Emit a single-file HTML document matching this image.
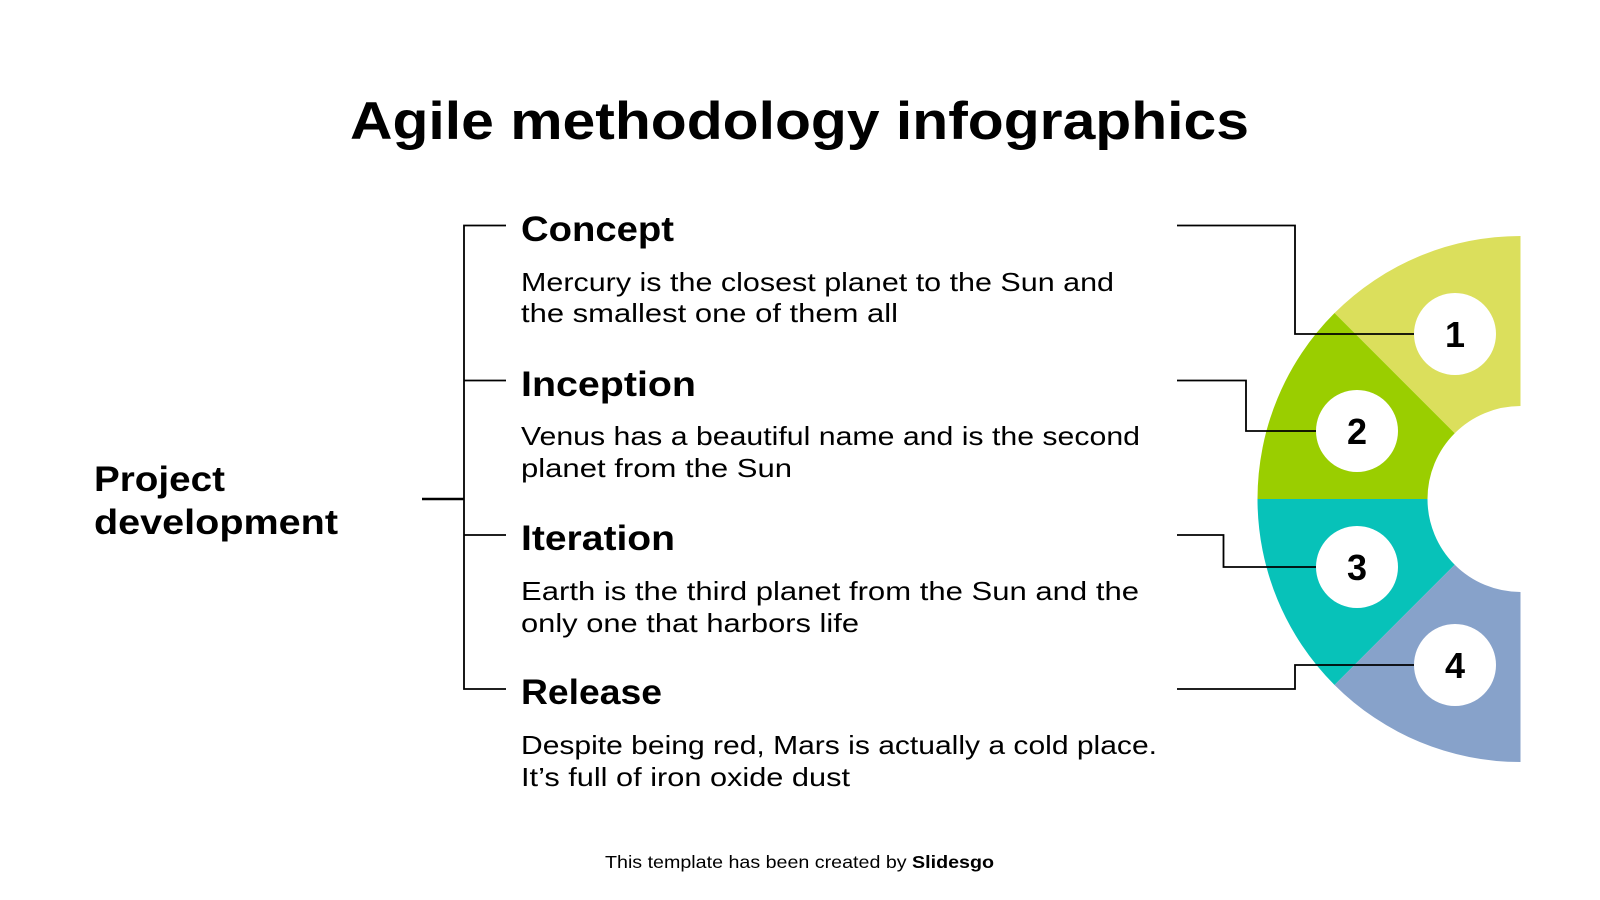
<!DOCTYPE html>
<html><head><meta charset="utf-8"><style>
html,body{margin:0;padding:0;background:#fff;}
svg{display:block;font-family:"Liberation Sans",sans-serif;}
</style></head><body>
<svg width="1600" height="900" viewBox="0 0 1600 900" xmlns="http://www.w3.org/2000/svg">
<text x="350" y="139" font-size="53" font-weight="bold" fill="#000" textLength="899" lengthAdjust="spacingAndGlyphs">Agile methodology infographics</text>

<g transform="translate(1520.5,499)">
<path d="M0,-263 A263,263 0 0 0 -185.97,-185.97 L-65.76,-65.76 A93,93 0 0 1 0,-93 Z" fill="#dbdf5c"/>
<path d="M-185.97,-185.97 A263,263 0 0 0 -263,0 L-93,0 A93,93 0 0 1 -65.76,-65.76 Z" fill="#9ace00"/>
<path d="M-263,0 A263,263 0 0 0 -185.97,185.97 L-65.76,65.76 A93,93 0 0 1 -93,0 Z" fill="#07c2b9"/>
<path d="M-185.97,185.97 A263,263 0 0 0 0,263 L0,93 A93,93 0 0 1 -65.76,65.76 Z" fill="#87a2ca"/>
</g>

<g fill="none" stroke="#000" stroke-width="1.8">
<polyline points="1177,225.5 1295,225.5 1295,334 1414,334"/>
<polyline points="1177,380.5 1246,380.5 1246,431 1316,431"/>
<polyline points="1177,535 1223.5,535 1223.5,567 1316,567"/>
<polyline points="1177,689 1295,689 1295,665 1414,665"/>
<polyline points="506,225.5 464,225.5 464,689 506,689"/>
<line x1="464" y1="380.5" x2="506" y2="380.5"/>
<line x1="464" y1="535" x2="506" y2="535"/>
<line x1="422" y1="499" x2="464" y2="499" stroke-width="2.5"/>
</g>

<g fill="#fff">
<circle cx="1455" cy="334" r="41"/>
<circle cx="1357" cy="431" r="41"/>
<circle cx="1357" cy="567" r="41"/>
<circle cx="1455" cy="665" r="41"/>
</g>
<g font-size="36" font-weight="bold" text-anchor="middle" fill="#000">
<text x="1455" y="347">1</text>
<text x="1357" y="444">2</text>
<text x="1357" y="580">3</text>
<text x="1455" y="678">4</text>
</g>

<g font-size="35" font-weight="bold" fill="#000" lengthAdjust="spacingAndGlyphs">
<text x="94" y="491" textLength="131" lengthAdjust="spacingAndGlyphs">Project</text>
<text x="94" y="534" textLength="244" lengthAdjust="spacingAndGlyphs">development</text>
</g>

<g font-size="35" font-weight="bold" fill="#000">
<text x="521" y="241" textLength="153" lengthAdjust="spacingAndGlyphs">Concept</text>
<text x="521" y="396" textLength="175" lengthAdjust="spacingAndGlyphs">Inception</text>
<text x="521" y="550" textLength="154" lengthAdjust="spacingAndGlyphs">Iteration</text>
<text x="521" y="704" textLength="141" lengthAdjust="spacingAndGlyphs">Release</text>
</g>
<g font-size="26" fill="#000">
<text x="521" y="291" textLength="593" lengthAdjust="spacingAndGlyphs">Mercury is the closest planet to the Sun and</text>
<text x="521" y="322" textLength="377" lengthAdjust="spacingAndGlyphs">the smallest one of them all</text>
<text x="521" y="445" textLength="619" lengthAdjust="spacingAndGlyphs">Venus has a beautiful name and is the second</text>
<text x="521" y="477" textLength="271" lengthAdjust="spacingAndGlyphs">planet from the Sun</text>
<text x="521" y="600" textLength="618" lengthAdjust="spacingAndGlyphs">Earth is the third planet from the Sun and the</text>
<text x="521" y="632" textLength="338" lengthAdjust="spacingAndGlyphs">only one that harbors life</text>
<text x="521" y="754" textLength="636" lengthAdjust="spacingAndGlyphs">Despite being red, Mars is actually a cold place.</text>
<text x="521" y="786" textLength="329" lengthAdjust="spacingAndGlyphs">It’s full of iron oxide dust</text>
</g>

<text x="605" y="868" font-size="17.5" fill="#000" textLength="389" lengthAdjust="spacingAndGlyphs">This template has been created by <tspan font-weight="bold">Slidesgo</tspan></text>
</svg>
</body></html>
